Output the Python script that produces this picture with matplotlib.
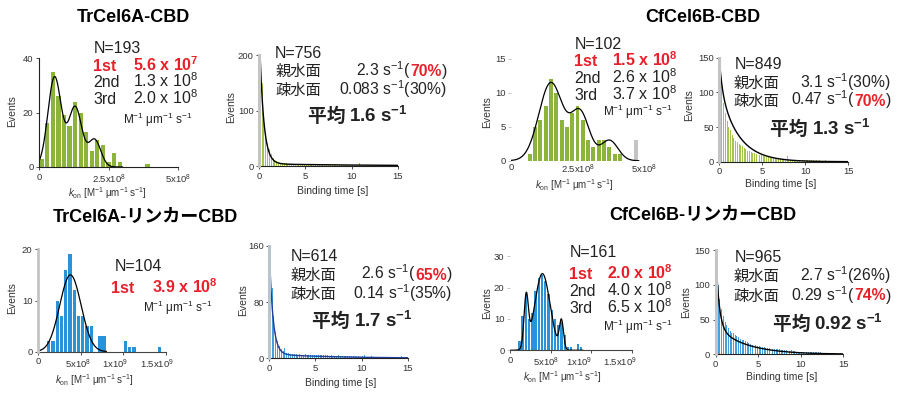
import numpy as np
import matplotlib
matplotlib.use("Agg")
import matplotlib.pyplot as plt
from matplotlib.transforms import IdentityTransform, ScaledTranslation

plt.rcParams['font.family'] = ['Liberation Sans', 'Noto Sans CJK JP']
plt.rcParams['mathtext.fontset'] = 'custom'
plt.rcParams['mathtext.rm'] = 'Liberation Sans'
plt.rcParams['mathtext.it'] = 'Liberation Sans:italic'
plt.rcParams['mathtext.bf'] = 'Liberation Sans:bold'
plt.rcParams['mathtext.default'] = 'regular'
plt.rcParams['axes.unicode_minus'] = True

W, H = 900, 395
fig = plt.figure(figsize=(W / 100, H / 100), dpi=100)
fig.patch.set_facecolor('white')

GREEN = '#8db43a'
GREEN_L = '#a3c64a'
BLUE = '#2a92d6'
BLUE_L = '#44a0dc'
RED = '#e8202a'
GRAY = '#c4c4c4'
DARK = '#222222'

# ---------------- data ----------------
# kon histograms
p1_bin_w = 2e7
p1_counts = [3, 16, 35, 26, 19, 15, 24, 20, 13, 6, 10, 8, 2, 5, 2, 0, 0, 0, 0, 1]
p1_fit_mu = [0.56e8, 1.3e8, 2.0e8]
p1_fit_amp = [33, 22, 10]
p1_fit_sd = [0.24e8, 0.24e8, 0.22e8]

p3_bin_w = 2e7
p3_start = 0.6e8
p3_counts = [1, 5, 6, 8, 12, 10, 6, 5, 7, 8, 6, 3, 2, 3, 3, 2, 1, 1]
p3_gray_center = 4.7e8
p3_gray_count = 3
p3_fit_mu = [1.5e8, 2.6e8, 3.7e8]
p3_fit_amp = [11.5, 7, 3]
p3_fit_sd = [0.45e8, 0.35e8, 0.32e8]

p5_bin_w = 5e7
p5_start = 1.0e8
p5_counts = [2, 2, 10, 7, 16, 19, 12, 7, 7, 5, 5, 0, 3, 3, 0, 0, 0, 0, 2, 1, 1, 0, 0, 0, 0, 0, 1]
p5_fit_mu = [3.8e8]
p5_fit_amp = [15]
p5_fit_sd = [1.25e8]

p7_bin_w = 4e7
p7_start = 0.96e8
p7_counts = [3, 11, 18, 10, 12, 19, 23, 24, 22, 18, 13, 10, 8, 9, 5, 1, 1, 0, 2, 1]
p7_fit_mu = [2.0e8, 4.0e8, 6.35e8]
p7_fit_amp = [16, 24.5, 9]
p7_fit_sd = [0.265e8, 0.935e8, 0.25e8]

# binding time histograms (bin width 0.2 s)
bt_bin_w = 0.2
p2_counts = [195, 150, 95, 62, 42, 30, 22, 15, 11, 9, 7, 6, 5, 5, 6, 4, 4, 3, 4, 3,
             3, 4, 3, 3, 2, 3, 2, 3, 2, 3, 2, 2, 3, 2, 2, 2, 2, 1, 2, 2,
             2, 1, 2, 1, 2, 1, 1, 2, 1, 1, 1, 1, 1, 1, 5, 1, 1, 1, 1, 1,
             1, 1, 1, 1, 1, 1, 1, 1, 1, 1, 1, 1, 0, 1, 0]
p2_fit_amp = [240, 4]
p2_fit_k = [2.3, 0.083]

p4_counts = [150, 110, 85, 70, 58, 50, 45, 38, 34, 30, 28, 26, 24, 22, 20, 18, 16, 15, 14, 13,
             12, 11, 10, 10, 9, 8, 8, 7, 7, 6, 6, 6, 5, 5, 5, 4, 4, 4, 4, 8,
             3, 3, 3, 3, 3, 3, 2, 2, 2, 2, 3, 2, 2, 2, 2, 1, 2, 1, 2, 1,
             1, 2, 1, 1, 1, 1, 1, 1, 1, 1, 1, 1, 3, 1, 1]
p4_fit_amp = [41, 109]
p4_fit_k = [3.1, 0.47]

p6_counts = [155, 100, 60, 38, 25, 17, 13, 10, 15, 8, 7, 6, 6, 6, 6, 5, 6, 5, 5, 6,
             5, 5, 5, 4, 5, 4, 4, 4, 4, 4, 4, 4, 3, 4, 3, 3, 3, 4, 3, 3,
             3, 3, 3, 3, 3, 3, 3, 2, 3, 2, 3, 4, 2, 2, 2, 3, 2, 2, 2, 2,
             2, 2, 2, 2, 2, 2, 2, 2, 2, 2, 2, 3, 2, 2, 2]
p6_fit_amp = [150, 6]
p6_fit_k = [2.6, 0.14]

p8_counts = [125, 100, 80, 65, 55, 47, 42, 38, 34, 31, 30, 28, 26, 25, 22, 21, 20, 19, 17, 16,
             15, 14, 14, 13, 12, 12, 11, 11, 10, 9, 9, 9, 8, 8, 7, 7, 7, 7, 6, 6,
             6, 6, 5, 5, 6, 5, 5, 4, 4, 4, 4, 4, 4, 3, 3, 3, 3, 3, 3, 3,
             3, 3, 2, 2, 2, 2, 2, 2, 2, 2, 2, 2, 1, 2, 1]
p8_fit_amp = [110, 40]
p8_fit_k = [2.7, 0.29]

titles = ["TrCel6A-CBD", "CfCel6B-CBD", "TrCel6A-リンカーCBD", "CfCel6B-リンカーCBD"]

# ---------------- helpers ----------------
def ax_px(x0, x1, ytop, ybot):
    return fig.add_axes([x0 / W, 1 - ybot / H, (x1 - x0) / W, (ybot - ytop) / H])

def style(ax, left_color=DARK, bottom_color=DARK, left_w=0.8, show_left=True, show_bottom=True):
    for s in ['top', 'right']:
        ax.spines[s].set_visible(False)
    ax.spines['left'].set_visible(show_left)
    ax.spines['bottom'].set_visible(show_bottom)
    ax.spines['left'].set_color(left_color)
    ax.spines['left'].set_linewidth(left_w)
    ax.spines['bottom'].set_color(bottom_color)
    ax.spines['bottom'].set_linewidth(0.8)
    ax.spines['left'].set_zorder(5)
    ax.tick_params(axis='both', labelsize=6.8, colors='#333333', length=2.5, width=0.6, pad=1.5)
    ax.set_facecolor('none')

def shift_xlabels(ax, shifts_px):
    for lab, dx in zip(ax.get_xticklabels(), shifts_px):
        lab.set_transform(lab.get_transform() + ScaledTranslation(dx / 100, 0, fig.dpi_scale_trans))

def ptext(x, y, s, **kw):
    base = dict(transform=IdentityTransform(), fontsize=8)
    base.update(kw)
    return fig.text(x, H - y, s, **base)

renderer = fig.canvas.get_renderer()

def segs(x, y, parts, ha='left', size=11.5):
    objs = []
    widths = []
    for s, kw in parts:
        k = dict(fontsize=size, va='baseline', ha='left', color=DARK)
        k.update(kw)
        t = ptext(0, 0, s, **k)
        widths.append(t.get_window_extent(renderer).width)
        objs.append(t)
    total = sum(widths)
    cx = x - total if ha == 'right' else x
    for t, w in zip(objs, widths):
        t.set_position((cx, H - y))
        cx += w

def gauss_curve(ax, x, mus, amps, sds):
    y = np.zeros_like(x)
    for m, a, s in zip(mus, amps, sds):
        y += a * np.exp(-0.5 * ((x - m) / s) ** 2)
    ax.plot(x, y, color='black', lw=0.9, zorder=4)

def exp_curve(ax, amps, ks, color):
    t = np.linspace(0.02, 15, 600)
    y = np.zeros_like(t)
    for a, k in zip(amps, ks):
        y += a * np.exp(-k * t)
    ax.plot(t, y, color=color, lw=1.0, zorder=4, clip_on=True)

def bt_hist(ax, counts, color):
    edges = np.arange(len(counts)) * bt_bin_w
    ax.bar(edges + bt_bin_w / 2, counts, width=bt_bin_w * 0.55, color=color, lw=0, zorder=2)

KON_LABEL = r"$\mathit{k}_{on}$ [M$^{-1}$ μm$^{-1}$ s$^{-1}$]"
UNIT = r"M$^{-1}$ μm$^{-1}$ s$^{-1}$"
LBL = dict(ha='center', va='center', fontsize=7.5, color='#333333')
CJK = dict(family=['Noto Sans CJK JP'])
RS = 11.3   # rate-line size
CS = 11.0   # CJK label size

def rate_block(xl, xr, y1, y2, r1, r2):
    segs(xl, y1, [("親水面", CJK)], size=CS)
    segs(xr, y1, r1, ha='right', size=RS)
    segs(xl, y2, [("疎水面", CJK)], size=CS)
    segs(xr, y2, r2, ha='right', size=RS)

# ---------------- Panel 1 ----------------
ax1 = ax_px(39, 178, 58, 167)
style(ax1)
c1 = np.arange(len(p1_counts)) * p1_bin_w + p1_bin_w / 2
ax1.bar(c1, p1_counts, width=p1_bin_w * 0.75, color=GREEN, lw=0, zorder=2)
gauss_curve(ax1, np.linspace(0, 3.0e8, 400), p1_fit_mu, p1_fit_amp, p1_fit_sd)
ax1.set_xlim(0, 5e8); ax1.set_ylim(0, 40)
ax1.set_xticks([0, 2.5e8, 5e8]); ax1.set_xticklabels(["0", r"2.5x10$^8$", r"5x10$^8$"])
ax1.set_yticks([0, 20, 40])
ptext(12, 111, "Events", rotation=90, **LBL)
ptext(107, 193, KON_LABEL, **dict(LBL, fontsize=7))

segs(94, 53.3, [("N=193", {})])
segs(93, 70.7, [("1st", dict(color=RED, weight='bold'))])
segs(133, 70.7, [(r"5.6 x 10$^{7}$", dict(color=RED, weight='bold'))])
segs(93, 87, [("2nd", {})]); segs(133, 87, [(r"1.3 x 10$^{8}$", {})])
segs(93, 104.5, [("3rd", {})]); segs(133, 104.5, [(r"2.0 x 10$^{8}$", {})])
segs(193, 124, [(UNIT, {})], ha='right', size=8.5)

# ---------------- Panel 2 ----------------
ax2 = ax_px(259.3, 397.7, 55, 166)
style(ax2, left_color=GRAY, left_w=2.2)
bt_hist(ax2, p2_counts, GREEN_L)
exp_curve(ax2, p2_fit_amp, p2_fit_k, 'black')
ax2.set_xlim(0, 15); ax2.set_ylim(0, 200)
ax2.set_xticks([0, 5, 10, 15]); ax2.set_yticks([0, 100, 200])
ptext(231, 107, "Events", rotation=90, **LBL)
ptext(333, 191, "Binding time [s]", **LBL)
segs(274.3, 58.3, [("N=756", {})])
rate_block(275.7, 446.7, 76.2, 94.8,
           [(r"2.3 s$^{-1}$(", {}), ("70%", dict(color=RED, weight='bold')), (")", {})],
           [(r"0.083 s$^{-1}$(30%)", {})])
segs(307.7, 121.7, [("平均 ", dict(weight='bold', **CJK)),
                    (r"1.6 s$^{-1}$", dict(weight='bold'))], size=13.5)

# ---------------- Panel 3 ----------------
ax3 = ax_px(511, 644, 59, 160.7)
style(ax3, show_left=False, show_bottom=False)
ax3.tick_params(axis='y', color='#bbbbbb')
ax3.tick_params(axis='x', length=0)
c3 = p3_start + np.arange(len(p3_counts)) * p3_bin_w + p3_bin_w / 2
ax3.bar(c3, p3_counts, width=p3_bin_w * 0.75, color=GREEN, lw=0, zorder=2)
ax3.bar([p3_gray_center], [p3_gray_count], width=p3_bin_w * 0.75, color=GRAY, lw=0, zorder=2)
gauss_curve(ax3, np.linspace(0, 4.8e8, 400), p3_fit_mu, p3_fit_amp, p3_fit_sd)
ax3.set_xlim(0, 5e8); ax3.set_ylim(0, 15)
ax3.set_xticks([0, 2.5e8, 5e8]); ax3.set_xticklabels(["0", r"2.5x10$^8$", r"5x10$^8$"])
ax3.set_yticks([0, 5, 10, 15])
ptext(487, 112, "Events", rotation=90, **LBL)
ptext(574, 185, KON_LABEL, **dict(LBL, fontsize=7))
segs(575, 49.3, [("N=102", {})])
segs(574, 66, [("1st", dict(color=RED, weight='bold'))])
segs(612.3, 66, [(r"1.5 x 10$^{8}$", dict(color=RED, weight='bold'))])
segs(574, 83.3, [("2nd", {})]); segs(612.3, 83.3, [(r"2.6 x 10$^{8}$", {})])
segs(574, 99.5, [("3rd", {})]); segs(612.3, 99.5, [(r"3.7 x 10$^{8}$", {})])
segs(673, 116, [(UNIT, {})], ha='right', size=8.5)

# ---------------- Panel 4 ----------------
ax4 = ax_px(719.3, 848.3, 57.7, 161.7)
style(ax4, left_color=GRAY, left_w=2.2)
bt_hist(ax4, p4_counts, GREEN_L)
exp_curve(ax4, p4_fit_amp, p4_fit_k, 'black')
ax4.set_xlim(0, 15); ax4.set_ylim(0, 150)
ax4.set_xticks([0, 5, 10, 15]); ax4.set_yticks([0, 50, 100, 150])
ptext(689, 105, "Events", rotation=90, **LBL)
ptext(781, 184, "Binding time [s]", **LBL)
segs(734.3, 69, [("N=849", {})])
rate_block(733.3, 890.7, 87.8, 105.5,
           [(r"3.1 s$^{-1}$(30%)", {})],
           [(r"0.47 s$^{-1}$(", {}), ("70%", dict(color=RED, weight='bold')), (")", {})])
segs(770, 135, [("平均 ", dict(weight='bold', **CJK)),
                (r"1.3 s$^{-1}$", dict(weight='bold'))], size=13.5)

# ---------------- Panel 5 ----------------
ax5 = ax_px(38, 166, 249.3, 351.7)
style(ax5, left_color=GRAY, left_w=2.0, bottom_color='#444444')
c5 = p5_start + np.arange(len(p5_counts)) * p5_bin_w + p5_bin_w / 2
ax5.bar(c5, p5_counts, width=p5_bin_w * 0.78, color=BLUE, lw=0, zorder=2)
gauss_curve(ax5, np.linspace(0, 8e8, 400), p5_fit_mu, p5_fit_amp, p5_fit_sd)
ax5.set_xlim(0, 1.5e9); ax5.set_ylim(0, 20)
ax5.set_xticks([0, 5e8, 1e9, 1.5e9])
ax5.set_xticklabels(["0", r"5x10$^8$", r"1x10$^9$", r"1.5x10$^9$"])
shift_xlabels(ax5, [0, -3, -8, -9])
ax5.set_yticks([0, 10, 20])
ptext(12.5, 298, "Events", rotation=90, **LBL)
ptext(94, 380, KON_LABEL, **dict(LBL, fontsize=7))
segs(115, 271, [("N=104", {})])
segs(111, 292.7, [("1st", dict(color=RED, weight='bold'))])
segs(151.7, 292.7, [(r"3.9 x 10$^{8}$", dict(color=RED, weight='bold'))])
segs(213, 311.7, [(UNIT, {})], ha='right', size=8.5)

# ---------------- Panel 6 ----------------
ax6 = ax_px(269.3, 407.7, 245.7, 358.3)
style(ax6, left_color='#b8c4d0', left_w=2.2)
bt_hist(ax6, p6_counts, BLUE_L)
exp_curve(ax6, p6_fit_amp, p6_fit_k, '#1f3f9a')
ax6.set_xlim(0, 15); ax6.set_ylim(0, 160)
ax6.set_xticks([0, 5, 10, 15]); ax6.set_yticks([0, 80, 160])
ptext(243, 300, "Events", rotation=90, **LBL)
ptext(341, 383, "Binding time [s]", **LBL)
segs(291, 260.7, [("N=614", {})])
rate_block(290.7, 452, 279.5, 298.8,
           [(r"2.6 s$^{-1}$(", {}), ("65%", dict(color=RED, weight='bold')), (")", {})],
           [(r"0.14 s$^{-1}$(35%)", {})])
segs(312.3, 326.7, [("平均 ", dict(weight='bold', **CJK)),
                    (r"1.7 s$^{-1}$", dict(weight='bold'))], size=13.5)

# ---------------- Panel 7 ----------------
ax7 = ax_px(510, 631.5, 256.4, 350.3)
style(ax7, show_left=False, bottom_color='#444444')
ax7.tick_params(axis='y', color='#bbbbbb')
c7 = p7_start + np.arange(len(p7_counts)) * p7_bin_w + p7_bin_w / 2
ax7.bar(c7, p7_counts, width=p7_bin_w * 0.72, color=BLUE, lw=0, zorder=2)
gauss_curve(ax7, np.linspace(0, 9e8, 400), p7_fit_mu, p7_fit_amp, p7_fit_sd)
ax7.set_xlim(0, 1.5e9); ax7.set_ylim(0, 30)
ax7.set_xticks([0, 5e8, 1e9, 1.5e9])
ax7.set_xticklabels(["0", r"5x10$^8$", r"1x10$^9$", r"1.5x10$^9$"])
shift_xlabels(ax7, [0, -4, -12, -12])
ax7.set_yticks([0, 10, 20, 30])
ptext(487, 303, "Events", rotation=90, **LBL)
ptext(562, 377, KON_LABEL, **dict(LBL, fontsize=7))
segs(569.3, 257.3, [("N=161", {})])
segs(569, 279, [("1st", dict(color=RED, weight='bold'))])
segs(606.7, 279, [(r"2.0 x 10$^{8}$", dict(color=RED, weight='bold'))])
segs(569, 296, [("2nd", {})]); segs(606.7, 296, [(r"4.0 x 10$^{8}$", {})])
segs(569, 312.7, [("3rd", {})]); segs(606.7, 312.7, [(r"6.5 x 10$^{8}$", {})])
segs(673, 331, [(UNIT, {})], ha='right', size=8.5)

# ---------------- Panel 8 ----------------
ax8 = ax_px(715.7, 843.3, 250, 354.3)
style(ax8, left_color=GRAY, left_w=2.2)
bt_hist(ax8, p8_counts, BLUE_L)
exp_curve(ax8, p8_fit_amp, p8_fit_k, 'black')
ax8.set_xlim(0, 15); ax8.set_ylim(0, 150)
ax8.set_xticks([0, 5, 10, 15]); ax8.set_yticks([0, 50, 100, 150])
ptext(686, 302, "Events", rotation=90, **LBL)
ptext(782, 377, "Binding time [s]", **LBL)
segs(734.3, 262.3, [("N=965", {})])
rate_block(733.3, 890.7, 281.2, 300.5,
           [(r"2.7 s$^{-1}$(26%)", {})],
           [(r"0.29 s$^{-1}$(", {}), ("74%", dict(color=RED, weight='bold')), (")", {})])
segs(772.7, 330, [("平均 ", dict(weight='bold', **CJK)),
                  (r"0.92 s$^{-1}$", dict(weight='bold'))], size=13.5)

# ---------------- titles ----------------
TT = dict(ha='center', va='center', fontsize=13, weight='bold', color='black')
ptext(133, 17, titles[0], **TT)
ptext(703, 17, titles[1], **TT)
ptext(145, 217, titles[2], **TT)
ptext(703, 215, titles[3], **TT)

fig.savefig("out.png", dpi=100, facecolor='white')
